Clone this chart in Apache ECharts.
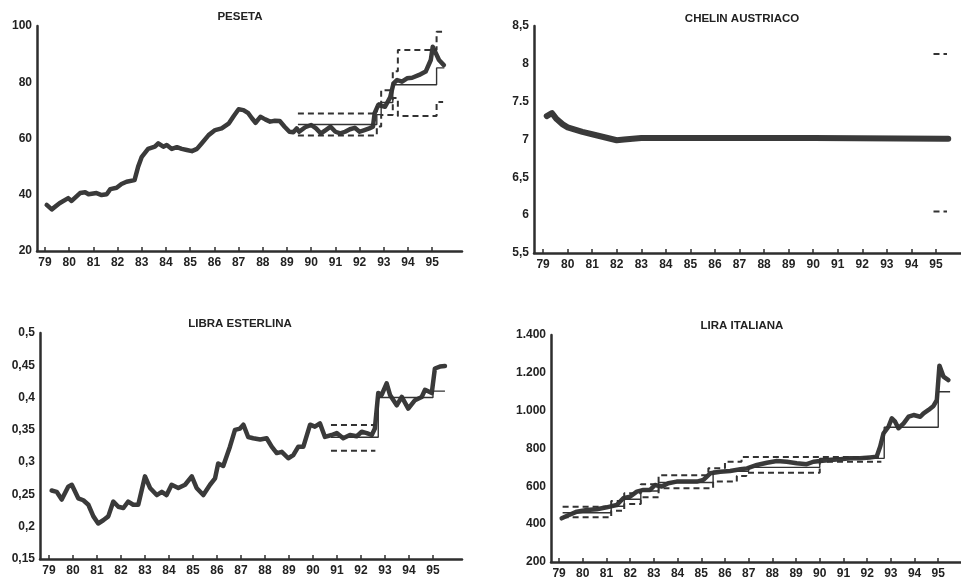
<!DOCTYPE html>
<html><head><meta charset="utf-8">
<script src="https://cdn.jsdelivr.net/npm/echarts@6/dist/echarts.min.js"></script>
<style>html,body{margin:0;padding:0;background:#fff}#c{width:961px;height:584px}</style>
</head><body><div id="c"></div>
<script>
// ---------- tick labels ----------
const yearTicks = [79,80,81,82,83,84,85,86,87,88,89,90,91,92,93,94,95];
const pesetaTicks = [20,40,60,80,100];
const chelinTicks = [5.5,6,6.5,7,7.5,8,8.5];
const chelinTickLabels = ['5,5','6','6,5','7','7.5','8','8,5'];
const libraTicks = [0.15,0.2,0.25,0.3,0.35,0.4,0.45,0.5];
const libraTickLabels = ['0,15','0,2','0,25','0,3','0,35','0,4','0,45','0,5'];
const liraTicks = [200,400,600,800,1000,1200,1400];
const liraTickLabels = ['200','400','600','800','1.000','1.200','1.400'];
const titles = ['PESETA','CHELIN AUSTRIACO','LIBRA ESTERLINA','LIRA ITALIANA'];

// ---------- PESETA ----------
const pesetaRate = [[79.07,36.4],[79.28,34.8],[79.6,37],[79.96,38.8],[80.1,37.8],[80.45,40.6],[80.66,40.9],[80.8,40.2],[81.13,40.6],[81.34,39.9],[81.55,40.2],[81.7,42],[81.96,42.5],[82.16,43.8],[82.37,44.6],[82.7,45.2],[82.85,50],[83.0,53.5],[83.26,56.3],[83.54,57.1],[83.68,58.3],[83.89,57.1],[84.03,57.7],[84.24,56.3],[84.45,56.9],[84.65,56.3],[84.86,55.9],[85.07,55.5],[85.28,56.3],[85.48,58.3],[85.76,61.2],[86.03,63],[86.3,63.6],[86.6,65.4],[86.8,68],[87.0,70.4],[87.2,70.1],[87.4,69],[87.55,67.2],[87.7,65.6],[87.9,67.7],[88.1,66.8],[88.3,66],[88.5,66.3],[88.7,66.2],[88.9,64.2],[89.1,62.4],[89.26,62.2],[89.4,63.6],[89.5,62.4],[89.75,64],[90.0,64.8],[90.2,63.6],[90.4,61.8],[90.6,63],[90.8,64.2],[91.0,62.4],[91.2,61.8],[91.4,62.4],[91.6,63.3],[91.8,63.8],[92.0,62.4],[92.2,63],[92.4,63.6],[92.55,64.2],[92.62,69],[92.77,71.9],[93.05,71.3],[93.26,74.6],[93.4,79.6],[93.55,80.8],[93.75,80.2],[93.96,81.4],[94.17,81.6],[94.46,82.6],[94.73,83.8],[94.94,87.9],[95.02,92.6],[95.15,90.3],[95.28,87.9],[95.48,86.1]];
const pesetaCentral = [[89.45,65],[92.71,65],[92.71,68.5],[92.89,68.5],[92.89,72.8],[93.37,72.8],[93.37,79.1],[95.18,79.1],[95.18,85.1],[95.5,85.1]];
const pesetaUpper = [[89.45,68.9],[92.71,68.9],[92.71,72.5],[92.89,72.5],[92.89,77.2],[93.37,77.2],[93.37,83.9],[93.58,83.9],[93.58,91.5],[95.18,91.5],[95.18,98],[95.45,98]];
const pesetaLower = [[89.45,61.1],[92.71,61.1],[92.71,64.3],[92.89,64.3],[92.89,68.4],[93.37,68.4],[93.37,74.4],[93.58,74.4],[93.58,68],[95.18,68],[95.18,73],[95.45,73]];

// ---------- CHELIN ----------
const chelinRate = [[79.15,7.31],[79.36,7.35],[79.55,7.27],[79.8,7.2],[80.0,7.16],[80.3,7.13],[80.6,7.1],[81.0,7.07],[81.5,7.03],[82.0,6.99],[82.3,7.0],[83.0,7.02],[85.0,7.02],[90.0,7.02],[95.3,7.01],[95.5,7.01]];
const chelinUpper = [[94.9,8.13],[95.45,8.13]];
const chelinLower = [[94.9,6.05],[95.45,6.05]];

// ---------- LIBRA ----------
const libraRate = [[79.11,0.256],[79.32,0.254],[79.53,0.242],[79.8,0.262],[79.95,0.265],[80.22,0.244],[80.43,0.241],[80.64,0.234],[80.85,0.216],[81.05,0.205],[81.26,0.21],[81.47,0.216],[81.68,0.239],[81.89,0.231],[82.1,0.229],[82.3,0.239],[82.51,0.234],[82.72,0.234],[83.0,0.278],[83.21,0.26],[83.49,0.249],[83.7,0.254],[83.9,0.249],[84.11,0.265],[84.39,0.26],[84.67,0.265],[84.95,0.278],[85.15,0.26],[85.43,0.249],[85.71,0.265],[85.92,0.275],[86.05,0.298],[86.26,0.294],[86.54,0.324],[86.75,0.35],[86.96,0.352],[87.1,0.358],[87.3,0.339],[87.51,0.337],[87.8,0.335],[88.07,0.337],[88.28,0.324],[88.49,0.314],[88.7,0.316],[88.97,0.306],[89.18,0.311],[89.39,0.324],[89.6,0.324],[89.88,0.358],[90.08,0.355],[90.29,0.36],[90.5,0.339],[90.78,0.342],[90.99,0.345],[91.26,0.337],[91.54,0.342],[91.82,0.34],[92.03,0.347],[92.24,0.345],[92.45,0.342],[92.58,0.352],[92.72,0.407],[92.86,0.404],[93.07,0.422],[93.21,0.404],[93.49,0.388],[93.7,0.401],[93.97,0.383],[94.25,0.396],[94.53,0.401],[94.67,0.412],[94.95,0.407],[95.08,0.445],[95.29,0.448],[95.5,0.449]];
const libraCentral = [[90.75,0.3385],[92.72,0.3385],[92.72,0.40],[95.0,0.40],[95.0,0.41],[95.5,0.41]];
const libraUpper = [[90.75,0.3575],[92.6,0.3575]];
const libraLower = [[90.75,0.3175],[92.6,0.3175]];

// ---------- LIRA ----------
const liraRate = [[79.11,431],[79.32,443],[79.75,466],[80.17,475],[80.59,479],[81.01,489],[81.43,501],[81.71,537],[81.99,545],[82.28,572],[82.56,581],[82.84,581],[83.05,607],[83.33,599],[83.61,616],[83.96,625],[84.39,625],[84.81,625],[85.09,634],[85.38,669],[85.8,677],[86.22,681],[86.65,690],[86.93,695],[87.35,713],[87.77,725],[88.19,734],[88.61,730],[89.03,722],[89.45,717],[89.73,730],[90.02,734],[90.44,739],[90.86,743],[91.28,748],[91.7,748],[92.12,753],[92.4,757],[92.55,810],[92.69,880],[92.9,915],[93.04,960],[93.18,942],[93.32,907],[93.54,933],[93.75,968],[93.96,977],[94.24,968],[94.38,986],[94.59,1004],[94.8,1025],[94.94,1056],[95.05,1238],[95.22,1180],[95.43,1162]];
const liraCentral = [[79.15,460],[81.2,460],[81.2,495],[81.75,495],[81.75,532],[82.45,532],[82.45,575],[83.2,575],[83.2,620],[85.5,620],[85.5,680],[87.0,680],[87.0,700],[90.0,700],[90.0,748],[92.72,748],[92.72,912],[95.0,912],[95.0,1100],[95.5,1100]];
const liraUpper = [[79.15,492],[81.2,492],[81.2,523],[81.75,523],[81.75,563],[82.45,563],[82.45,611],[83.2,611],[83.2,658],[85.3,658],[85.3,695],[86.0,695],[86.0,730],[86.7,730],[86.7,755],[92.6,755]];
const liraLower = [[79.15,436],[81.2,436],[81.2,471],[81.75,471],[81.75,507],[82.45,507],[82.45,542],[83.2,542],[83.2,590],[85.5,590],[85.5,625],[86.5,625],[86.5,655],[86.9,655],[86.9,672],[90.0,672],[90.0,730],[92.6,730]];

// ---------- layout ----------
const FONT = 'Liberation Sans';
const INK = '#2e2e2e';
const grids = [
  {left:37, top:26, width:425, height:225},
  {left:534, top:26, width:427, height:227},
  {left:40, top:333, width:422, height:226},
  {left:551, top:335, width:410, height:227}
];
const xRanges = [[78.67,96.23],[78.63,96.02],[78.625,96.21],[78.66,95.96]];
const yCfg = [
  {min:20, max:100, vals:pesetaTicks, fmt:v=>String(v)},
  {min:5.5, max:8.5, vals:chelinTicks, fmt:v=>chelinTickLabels[chelinTicks.indexOf(v)]},
  {min:0.15, max:0.5, vals:libraTicks, fmt:v=>libraTickLabels[libraTicks.indexOf(v)]},
  {min:200, max:1400, vals:liraTicks, fmt:v=>liraTickLabels[liraTicks.indexOf(v)]}
];
const titlePos = [[235,6],[737,8],[235,313],[737,315]];
const thickW = [4.5, 6, 4.5, 4.5];

const xAxes = xRanges.map((r,i)=>({
  type:'value', gridIndex:i, min:r[0], max:r[1],
  axisLine:{lineStyle:{color:INK,width:2.5}},
  axisTick:{show:true, inside:true, length:4, customValues:yearTicks, lineStyle:{color:INK,width:1.5}},
  axisLabel:{customValues:yearTicks, formatter:v=>String(Math.round(v)), color:'#222', fontFamily:FONT, fontSize:12, fontWeight:'bold', margin:6},
  splitLine:{show:false}
}));
const yAxes = yCfg.map((c,i)=>({
  type:'value', gridIndex:i, min:c.min, max:c.max,
  axisLine:{show:true, lineStyle:{color:INK,width:2.5}},
  axisTick:{show:false},
  axisLabel:{customValues:c.vals, formatter:c.fmt, color:'#222', fontFamily:FONT, fontSize:12, fontWeight:'bold', margin:5},
  splitLine:{show:false}
}));

function thick(d,i){return {type:'line', data:d, xAxisIndex:i, yAxisIndex:i, showSymbol:false, symbol:'none', z:2,
  lineStyle:{color:'#3a3a3a', width:thickW[i], join:'round', cap:'round'}};}
function thin(d,i){return {type:'line', data:d, xAxisIndex:i, yAxisIndex:i, showSymbol:false, symbol:'none', z:3,
  lineStyle:{color:'#333', width:1.4}};}
function dash(d,i){return {type:'line', data:d, xAxisIndex:i, yAxisIndex:i, showSymbol:false, symbol:'none', z:3,
  lineStyle:{color:'#333', width:2, type:[6,4]}};}

const series = [
  thick(pesetaRate,0), thin(pesetaCentral,0), dash(pesetaUpper,0), dash(pesetaLower,0),
  thick(chelinRate,1), dash(chelinUpper,1), dash(chelinLower,1),
  thick(libraRate,2), thin(libraCentral,2), dash(libraUpper,2), dash(libraLower,2),
  thick(liraRate,3), thin(liraCentral,3), dash(liraUpper,3), dash(liraLower,3)
];

const chart = echarts.init(document.getElementById('c'), null, {renderer:'canvas'});
chart.setOption({
  backgroundColor:'#fff',
  animation:false,
  title: titles.map((t,i)=>({text:t, left:titlePos[i][0], top:titlePos[i][1], textAlign:'center',
    textStyle:{fontFamily:FONT, fontSize:11.5, fontWeight:'bold', color:'#222'}})),
  grid: grids,
  xAxis: xAxes,
  yAxis: yAxes,
  series: series
});
</script></body></html>
